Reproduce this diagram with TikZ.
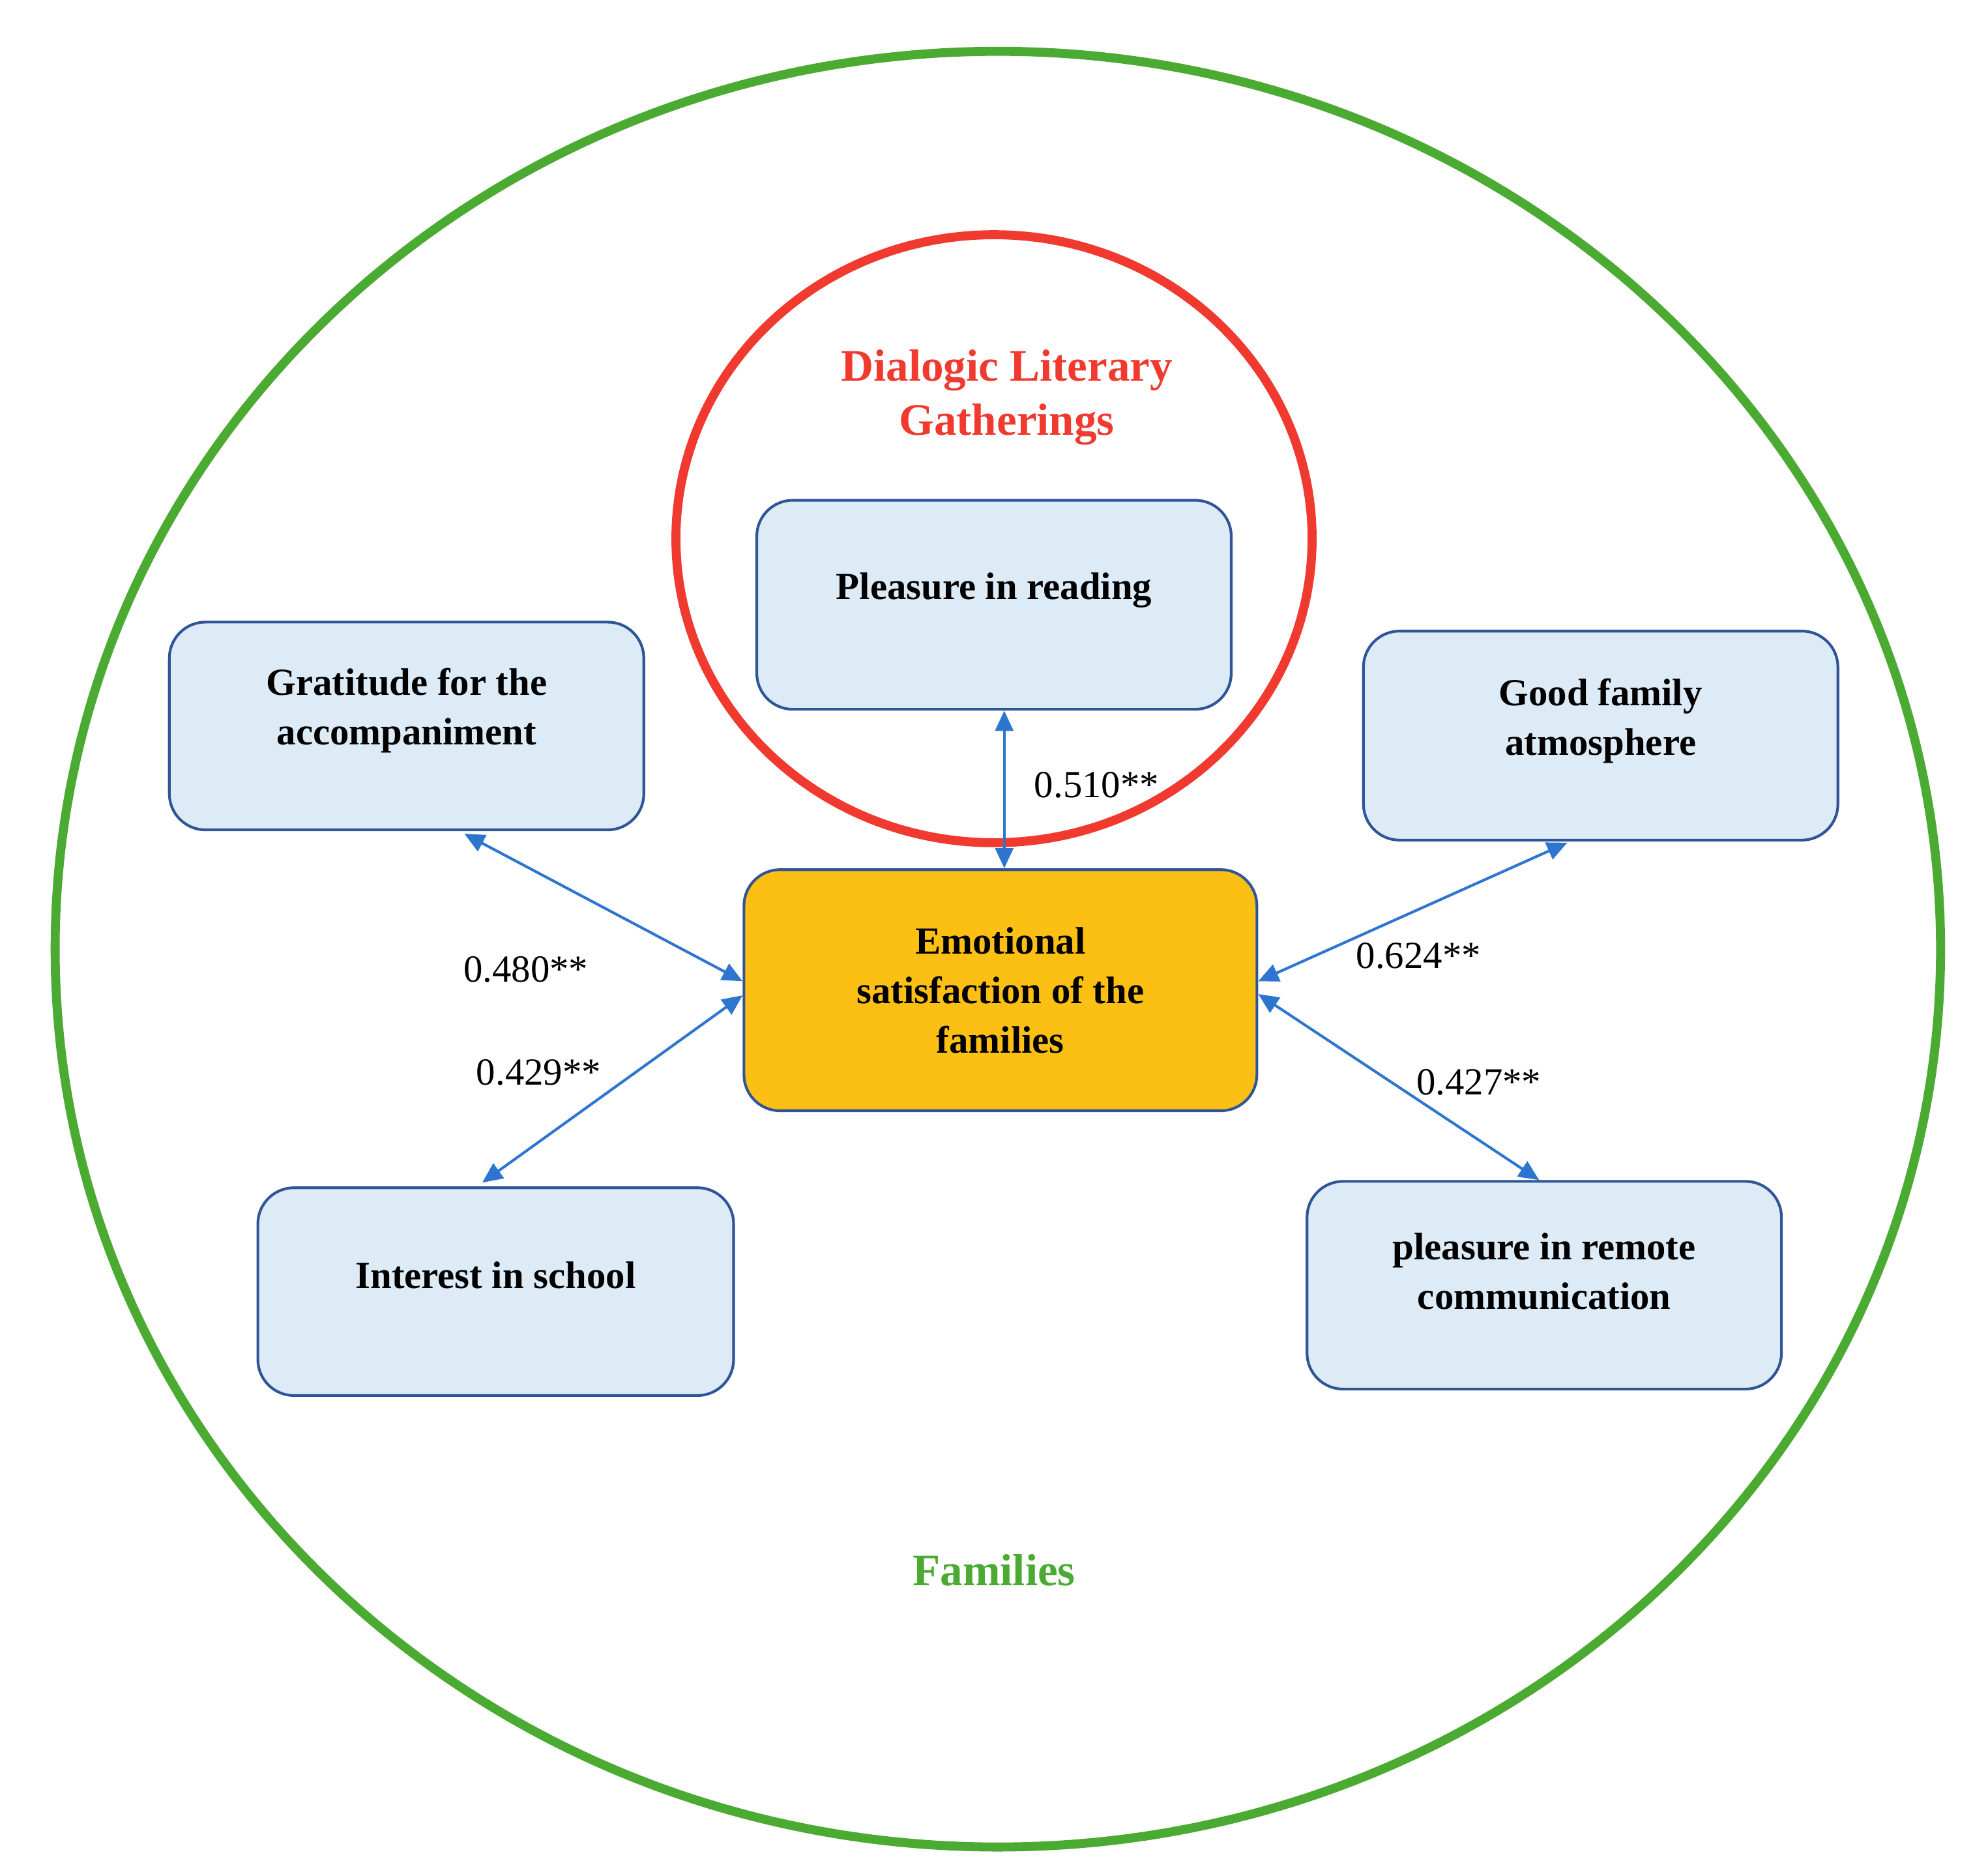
\documentclass[tikz,border=0pt]{standalone}
\usepackage{fontspec}
\setmainfont{Liberation Serif}
\usetikzlibrary{arrows.meta}
\definecolor{boxfill}{HTML}{DDEBF7}
\definecolor{boxline}{HTML}{2F5597}
\definecolor{orangefill}{HTML}{FCBF14}
\definecolor{arrowc}{HTML}{2E75D0}
\definecolor{greenc}{HTML}{4BAA32}
\definecolor{redc}{HTML}{F03A30}
\begin{document}
\begin{tikzpicture}[x=0.02cm,y=-0.02cm,
  box/.style={draw=boxline,line width=1.2pt,fill=boxfill,rounded corners=16pt,align=center,font=\fontsize{17}{22}\selectfont\bfseries,inner sep=0pt},
  conn/.style={arrowc,line width=1.2pt,{Triangle[length=9pt,width=8pt]}-{Triangle[length=9pt,width=8pt]}},
  num/.style={font=\fontsize{17}{20}\selectfont}]
\useasboundingbox (0,0) rectangle (1550,1461);
\draw[greenc,line width=4pt] (778,740) ellipse [x radius=735,y radius=700];
\draw[redc,line width=4pt] (775,420) ellipse [x radius=248,y radius=237];
\node[font=\fontsize{20}{24}\selectfont\bfseries,text=redc,align=center] (dlg) at (785,310) {Dialogic Literary\\Gatherings};
\node[font=\fontsize{20}{24}\selectfont\bfseries,text=greenc] (fam) at (775,1224) {Families};
\node[box,minimum width=7.4cm,minimum height=3.26cm] (pr) at (775,471.5) {};
\node at (775,460) [font=\fontsize{17}{22}\selectfont\bfseries] {Pleasure in reading};
\node[box,minimum width=7.4cm,minimum height=3.24cm] (gr) at (317,566) {};
\node at (317,554) [font=\fontsize{17}{22}\selectfont\bfseries,align=center] {Gratitude for the\\accompaniment};
\node[box,minimum width=7.4cm,minimum height=3.26cm] (gf) at (1248,573.5) {};
\node at (1248,562) [font=\fontsize{17}{22}\selectfont\bfseries,align=center] {Good family\\atmosphere};
\node[box,fill=orangefill,minimum width=8cm,minimum height=3.76cm] (em) at (780,772) {Emotional\\satisfaction of the\\families};
\node[box,minimum width=7.42cm,minimum height=3.24cm] (is) at (386.5,1007) {};
\node at (386.5,994) [font=\fontsize{17}{22}\selectfont\bfseries] {Interest in school};
\node[box,minimum width=7.4cm,minimum height=3.24cm] (rc) at (1204,1002) {};
\node at (1204,991) [font=\fontsize{17}{22}\selectfont\bfseries,align=center] {pleasure in remote\\communication};
\draw[conn] (pr.south -| 783,0) -- (em.north -| 783,0);
\draw[conn] (362,650) -- (em.west |- 0,765);
\draw[conn] (376,922) -- (em.west |- 0,776);
\draw[conn] (1222,657) -- (em.east |- 0,765);
\draw[conn] (em.east |- 0,775) -- (1200,920);
\node[num] (n1) at (855,612) {0.510**};
\node[num] (n2) at (410,756) {0.480**};
\node[num] (n3) at (420,836) {0.429**};
\node[num] (n4) at (1106,745) {0.624**};
\node[num] (n5) at (1153,844) {0.427**};
\end{tikzpicture}
\end{document}
